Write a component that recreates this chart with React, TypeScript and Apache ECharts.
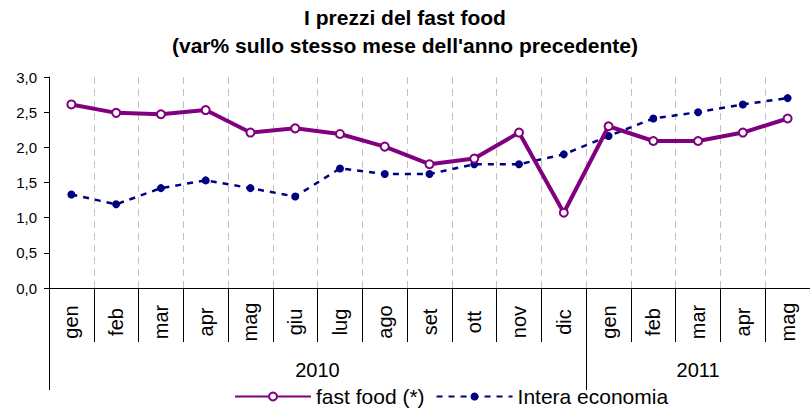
import React, { useEffect, useRef } from "react";
import * as echarts from "echarts";

const months = ["gen", "feb", "mar", "apr", "mag", "giu", "lug", "ago", "set", "ott", "nov", "dic", "gen", "feb", "mar", "apr", "mag"];
const years = ["2010", "2011"];
const yearLabelIndex = [5, 14];
const yearStartIndex = [0, 12];
const fastFood = [2.61, 2.49, 2.47, 2.53, 2.21, 2.27, 2.19, 2.01, 1.76, 1.84, 2.21, 1.07, 2.3, 2.09, 2.09, 2.21, 2.41];
const interaEconomia = [1.33, 1.19, 1.42, 1.53, 1.42, 1.3, 1.7, 1.62, 1.62, 1.76, 1.76, 1.9, 2.16, 2.41, 2.5, 2.61, 2.7];
const yTicks = { min: 0, max: 3, interval: 0.5 };

const FONT = "'Liberation Sans', Arial, sans-serif";

export default function App() {
  const ref = useRef<HTMLDivElement>(null);
  useEffect(() => {
    if (!ref.current) return;
    const chart = echarts.init(ref.current, undefined, { renderer: "svg" });
    const yearData = months.map((m, i) => ({
      value: m + "_" + i,
      textStyle: i === yearLabelIndex[0] ? { align: "left" } : { align: "center" },
    }));
    chart.setOption({
      animation: false,
      backgroundColor: "#ffffff",
      textStyle: { fontFamily: FONT },
      title: {
        text: "I prezzi del fast food\n(var% sullo stesso mese dell'anno precedente)",
        left: "center",
        top: 3,
        padding: 0,
        textStyle: { fontFamily: FONT, fontSize: 21, fontWeight: "bold", color: "#000", lineHeight: 28 },
      },
      legend: {
        top: 386,
        left: 234,
        padding: 0,
        itemWidth: 76,
        itemHeight: 10,
        itemGap: 11,
        textStyle: { fontFamily: FONT, fontSize: 21, color: "#000" },
        data: ["fast food (*)", "Intera economia"],
      },
      grid: { left: 49, top: 77, width: 767, height: 211, containLabel: false },
      xAxis: [
        {
          type: "category",
          data: months,
          boundaryGap: true,
          axisLine: { lineStyle: { color: "#000", width: 1 } },
          axisTick: { show: true, length: 54, lineStyle: { color: "#000" } },
          axisLabel: {
            rotate: 90,
            interval: 0,
            margin: 34,
            align: "center",
            verticalAlign: "middle",
            fontSize: 20,
            color: "#000",
            fontFamily: FONT,
          },
          splitLine: { show: true, interval: 0, lineStyle: { color: "#c0c0c0", type: [7, 5], width: 1 } },
        },
        {
          type: "category",
          position: "bottom",
          data: yearData,
          boundaryGap: true,
          axisLine: { show: false },
          axisTick: {
            show: true,
            length: 102,
            interval: (i: number) => yearStartIndex.includes(i),
            lineStyle: { color: "#000" },
          },
          axisLabel: {
            interval: (i: number) => yearLabelIndex.includes(i),
            margin: 72,
            fontSize: 20,
            color: "#000",
            fontFamily: FONT,
            formatter: (_v: string, i: number) => {
              const k = yearLabelIndex.indexOf(i);
              return k >= 0 ? years[k] : "";
            },
          },
          splitLine: { show: false },
        },
      ],
      yAxis: {
        type: "value",
        min: yTicks.min,
        max: yTicks.max,
        interval: yTicks.interval,
        axisLine: { show: true, lineStyle: { color: "#000" } },
        axisTick: { show: true, length: 5, lineStyle: { color: "#000" } },
        axisLabel: {
          margin: 12,
          fontSize: 15,
          color: "#000",
          fontFamily: FONT,
          formatter: (v: number) => v.toFixed(1).replace(".", ","),
        },
        splitLine: { show: false },
      },
      series: [
        {
          name: "fast food (*)",
          type: "line",
          data: fastFood,
          xAxisIndex: 0,
          symbol: "circle",
          symbolSize: 8,
          showAllSymbol: true,
          lineStyle: { color: "#800080", width: 4 },
          itemStyle: { color: "#ffffff", borderColor: "#800080", borderWidth: 2 },
          z: 3,
        },
        {
          name: "Intera economia",
          type: "line",
          data: interaEconomia,
          xAxisIndex: 0,
          symbol: "circle",
          symbolSize: 8,
          showAllSymbol: true,
          lineStyle: { color: "#000080", width: 2.5, type: [6, 6] },
          itemStyle: { color: "#000080", borderColor: "#000080", borderWidth: 0 },
          z: 2,
        },
      ],
    });
    return () => chart.dispose();
  }, []);
  return <div ref={ref} style={{ position: "fixed", left: 0, top: 0, width: 810, height: 412 }} />;
}
